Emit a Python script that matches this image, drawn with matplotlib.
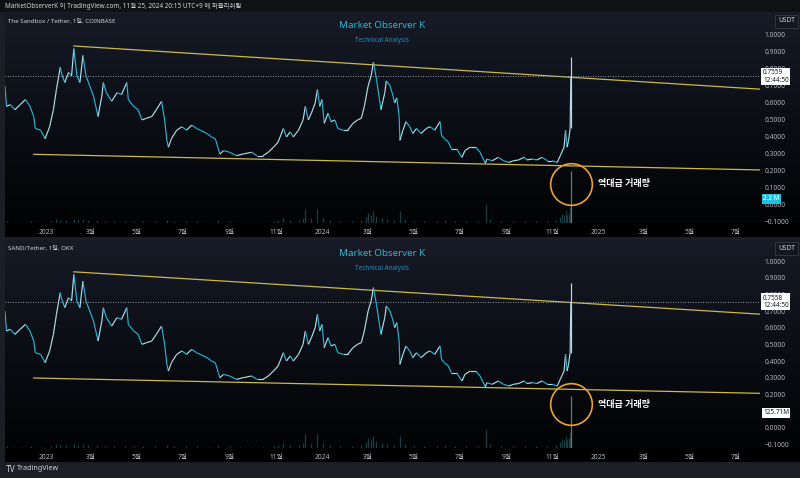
import numpy as np
import pandas as pd
import matplotlib
matplotlib.use("Agg")
import matplotlib.pyplot as plt
import matplotlib.dates as mdates
from matplotlib.collections import LineCollection
from matplotlib.colors import LinearSegmentedColormap
from matplotlib.patches import Rectangle

plt.rcParams['font.family'] = ['Noto Sans', 'Noto Sans CJK KR', 'DejaVu Sans']

# ---------------- data ----------------
price_dates = [
    "2022-11-08", "2022-11-10", "2022-11-15", "2022-11-21", "2022-11-28", "2022-12-05", "2022-12-11",
    "2022-12-16", "2022-12-18", "2022-12-25", "2022-12-31", "2023-01-06", "2023-01-11", "2023-01-15",
    "2023-01-20", "2023-01-22", "2023-01-26", "2023-01-31", "2023-02-04", "2023-02-07", "2023-02-11",
    "2023-02-15", "2023-02-19", "2023-02-23", "2023-02-28", "2023-03-05", "2023-03-11", "2023-03-16",
    "2023-03-18", "2023-03-22", "2023-03-29", "2023-04-05", "2023-04-11", "2023-04-18", "2023-04-20",
    "2023-04-27", "2023-05-03", "2023-05-08", "2023-05-14", "2023-05-21", "2023-05-27", "2023-06-03",
    "2023-06-07", "2023-06-10", "2023-06-12", "2023-06-16", "2023-06-23", "2023-06-30", "2023-07-06",
    "2023-07-13", "2023-07-19", "2023-07-24", "2023-08-02", "2023-08-08", "2023-08-13", "2023-08-17",
    "2023-08-19", "2023-08-24", "2023-09-01", "2023-09-10", "2023-09-19", "2023-09-30", "2023-10-07",
    "2023-10-15", "2023-10-22", "2023-10-29", "2023-11-04", "2023-11-11", "2023-11-15", "2023-11-20",
    "2023-11-24", "2023-12-01", "2023-12-07", "2023-12-10", "2023-12-14", "2023-12-18", "2023-12-23",
    "2023-12-26", "2023-12-29", "2024-01-01", "2024-01-04", "2024-01-09", "2024-01-13", "2024-01-18",
    "2024-01-22", "2024-01-29", "2024-02-04", "2024-02-11", "2024-02-17", "2024-02-22", "2024-02-26",
    "2024-03-02", "2024-03-06", "2024-03-09", "2024-03-13", "2024-03-17", "2024-03-19", "2024-03-24",
    "2024-03-26", "2024-03-31", "2024-04-04", "2024-04-06", "2024-04-09", "2024-04-12", "2024-04-13",
    "2024-04-17", "2024-04-21", "2024-04-26", "2024-04-30", "2024-05-05", "2024-05-11", "2024-05-18",
    "2024-05-23", "2024-05-29", "2024-06-05", "2024-06-07", "2024-06-11", "2024-06-16", "2024-06-20",
    "2024-06-27", "2024-07-04", "2024-07-08", "2024-07-15", "2024-07-22", "2024-07-28", "2024-08-04",
    "2024-08-06", "2024-08-13", "2024-08-21", "2024-08-28", "2024-09-04", "2024-09-10", "2024-09-17",
    "2024-09-24", "2024-09-28", "2024-10-05", "2024-10-11", "2024-10-18", "2024-10-25", "2024-10-31",
    "2024-11-07", "2024-11-11", "2024-11-16", "2024-11-18", "2024-11-20", "2024-11-22", "2024-11-24",
    "2024-11-25",
]
sand_close = [
    0.70, 0.58, 0.59, 0.56, 0.59, 0.62, 0.58,
    0.52, 0.45, 0.44, 0.39, 0.46, 0.56, 0.68,
    0.81, 0.77, 0.72, 0.78, 0.76, 0.92, 0.76,
    0.72, 0.88, 0.76, 0.70, 0.64, 0.52, 0.64,
    0.72, 0.66, 0.61, 0.66, 0.65, 0.72, 0.62,
    0.58, 0.56, 0.50, 0.51, 0.52, 0.56, 0.61,
    0.50, 0.38, 0.34, 0.39, 0.44, 0.46, 0.44,
    0.47, 0.45, 0.44, 0.42, 0.40, 0.39, 0.33,
    0.30, 0.32, 0.31, 0.29, 0.30, 0.31, 0.29,
    0.29, 0.31, 0.34, 0.37, 0.45, 0.40, 0.43,
    0.40, 0.44, 0.50, 0.58, 0.50, 0.54, 0.60,
    0.68, 0.58, 0.62, 0.48, 0.54, 0.49, 0.50,
    0.45, 0.44, 0.44, 0.48, 0.50, 0.51, 0.58,
    0.70, 0.76, 0.84, 0.74, 0.62, 0.56, 0.66,
    0.73, 0.70, 0.64, 0.60, 0.63, 0.52, 0.38,
    0.44, 0.49, 0.46, 0.42, 0.45, 0.42, 0.45,
    0.46, 0.44, 0.49, 0.41, 0.39, 0.37, 0.33,
    0.33, 0.28, 0.32, 0.34, 0.34, 0.31, 0.245,
    0.27, 0.26, 0.28, 0.26, 0.25, 0.26, 0.265,
    0.28, 0.265, 0.27, 0.265, 0.28, 0.26, 0.26,
    0.25, 0.29, 0.34, 0.44, 0.34, 0.38, 0.45,
    0.7559,
]
last_high = 0.87
coinbase_last = 0.7559
okx_last = 0.7558

vol_dates = [
    "2022-11-10", "2022-11-20", "2022-12-01", "2022-12-12", "2022-12-25", "2023-01-08", "2023-01-15",
    "2023-01-20", "2023-01-28", "2023-02-07", "2023-02-12", "2023-02-19", "2023-02-26", "2023-03-10",
    "2023-03-20", "2023-04-01", "2023-04-15", "2023-04-28", "2023-05-10", "2023-05-25", "2023-06-10",
    "2023-06-20", "2023-07-05", "2023-07-20", "2023-08-05", "2023-08-17", "2023-09-01", "2023-09-15",
    "2023-10-01", "2023-10-15", "2023-10-29", "2023-11-04", "2023-11-11", "2023-11-20", "2023-12-01",
    "2023-12-07", "2023-12-10", "2023-12-18", "2023-12-26", "2024-01-03", "2024-01-12", "2024-01-25",
    "2024-02-10", "2024-02-22", "2024-02-28", "2024-03-02", "2024-03-06", "2024-03-09", "2024-03-13",
    "2024-03-20", "2024-03-27", "2024-04-05", "2024-04-13", "2024-04-20", "2024-05-01", "2024-05-15",
    "2024-06-01", "2024-06-12", "2024-06-25", "2024-07-10", "2024-07-25", "2024-08-05", "2024-08-10",
    "2024-08-25", "2024-09-10", "2024-09-25", "2024-10-10", "2024-10-25", "2024-11-06", "2024-11-11",
    "2024-11-13", "2024-11-16", "2024-11-18", "2024-11-20", "2024-11-22", "2024-11-24", "2024-11-25",
]
coinbase_vol_m = [
    0.14, 0.09, 0.09, 0.14, 0.09, 0.18, 0.37,
    0.28, 0.28, 0.37, 0.28, 0.37, 0.28, 0.28,
    0.18, 0.18, 0.18, 0.14, 0.18, 0.14, 0.28,
    0.18, 0.14, 0.14, 0.09, 0.23, 0.14, 0.09,
    0.09, 0.09, 0.18, 0.28, 0.46, 0.28, 0.28,
    0.46, 1.28, 0.46, 1.28, 0.46, 0.28, 0.18,
    0.18, 0.28, 0.55, 0.92, 0.73, 1.10, 0.64,
    0.46, 0.37, 0.28, 1.10, 0.37, 0.18, 0.18,
    0.18, 0.28, 0.18, 0.18, 0.18, 1.74, 0.37,
    0.18, 0.14, 0.18, 0.14, 0.18, 0.28, 0.55,
    0.83, 0.73, 1.10, 0.73, 0.92, 1.47, 4.77,
]
okx_vol_m = [
    5.4, 3.6, 3.6, 5.4, 3.6, 7.2, 14.4,
    10.8, 10.8, 14.4, 10.8, 14.4, 10.8, 10.8,
    7.2, 7.2, 7.2, 5.4, 7.2, 5.4, 10.8,
    7.2, 5.4, 5.4, 3.6, 9.0, 5.4, 3.6,
    3.6, 3.6, 7.2, 10.8, 18.0, 10.8, 10.8,
    18.0, 50.0, 18.0, 50.0, 18.0, 10.8, 7.2,
    7.2, 10.8, 21.5, 35.9, 28.7, 43.0, 25.0,
    18.0, 14.4, 10.8, 43.0, 14.4, 7.2, 7.2,
    7.2, 10.8, 7.2, 7.2, 7.2, 68.0, 14.4,
    7.2, 5.4, 7.2, 5.4, 7.2, 10.8, 21.5,
    32.3, 28.7, 43.0, 28.7, 35.9, 57.4, 187.0,
]
coinbase_vol_label = "2.2 M"
coinbase_vol_value = 2.2
okx_vol_label = "125.71M"
okx_vol_value = 125.71

upper_line_dates = ["2023-02-07", "2025-08-02"]
upper_line_prices = [0.935, 0.681]
lower_line_dates = ["2022-12-16", "2025-08-02"]
lower_line_prices = [0.298, 0.206]

price_ticks = [-0.1, 0.0, 0.1, 0.2, 0.3, 0.4, 0.5, 0.6, 0.7, 0.8, 0.9, 1.0]
xtick_dates = ["2023-01-01", "2023-03-01", "2023-05-01", "2023-07-01", "2023-09-01", "2023-11-01",
               "2024-01-01", "2024-03-01", "2024-05-01", "2024-07-01", "2024-09-01", "2024-11-01",
               "2025-01-01", "2025-03-01", "2025-05-01", "2025-07-01"]
xtick_labels = ["2023", "3월", "5월", "7월", "9월", "11월", "2024", "3월", "5월", "7월", "9월", "11월",
                "2025", "3월", "5월", "7월"]
x_range = ["2022-11-08", "2025-08-02"]

# ---------------- figure ----------------
W, H = 800, 478
fig = plt.figure(figsize=(8, 4.78), dpi=100)
fig.patch.set_facecolor('#1c1e25')


def rect(x0, y0, x1, y1):
    return [x0 / W, 1 - y1 / H, (x1 - x0) / W, (y1 - y0) / H]


def frect(x0, y0, x1, y1, color):
    fig.add_artist(Rectangle((x0 / W, 1 - y1 / H), (x1 - x0) / W, (y1 - y0) / H,
                             transform=fig.transFigure, facecolor=color, edgecolor='none', zorder=0))


# header
frect(0, 0, 800, 12, '#101114')
fig.text(5 / W, 1 - 6 / H, "MarketObserverK 이 TradingView.com, 11월 25, 2024 20:15 UTC+9 에 퍼블리쉬됨",
         fontsize=4.6, color='#d1d4dc', va='center', ha='left')

grad_cmap = LinearSegmentedColormap.from_list('bg', ['#020304', '#0b0e15', '#171b27'])
up_color = '#b4dbe6'
down_color = '#27b2d2'

dates_num = mdates.date2num(pd.to_datetime(price_dates))
vdates_num = mdates.date2num(pd.to_datetime(vol_dates))


def panel(top, bottom, strip_bottom, ylim, close, last_price, vols, vol_max, vol_value, vol_label,
          vol_fc, vol_tc, info, circle_price):
    # background gradient
    bg = fig.add_axes(rect(5, top, 800, bottom))
    grad = np.linspace(0, 1, 256).reshape(-1, 1)
    bg.imshow(grad, aspect='auto', cmap=grad_cmap, origin='lower', extent=[0, 1, 0, 1])
    bg.axis('off')
    frect(5, bottom, 800, strip_bottom, '#000000')

    ax = fig.add_axes(rect(5, top, 760, bottom))
    ax.patch.set_alpha(0)
    for s in ax.spines.values():
        s.set_visible(False)
    ax.set_xlim(pd.to_datetime(x_range[0]), pd.to_datetime(x_range[1]))
    ax.set_ylim(*ylim)

    # volumes
    vcols = ['#173e42'] * (len(vols) - 1) + ['#6f737b']
    ax.vlines(vdates_num, 0, np.array(vols) / vol_max, transform=ax.get_xaxis_transform(),
              colors=vcols, lw=0.9, zorder=1)

    # trend lines
    ax.plot(pd.to_datetime(upper_line_dates), upper_line_prices, color='#cbb94a', lw=0.9, zorder=2)
    ax.plot(pd.to_datetime(lower_line_dates), lower_line_prices, color='#cbb94a', lw=0.9, zorder=2)

    # price line (up segments pale, down segments cyan)
    pts = np.column_stack([dates_num, close])
    segs = np.stack([pts[:-1], pts[1:]], axis=1)
    cols = [up_color if b >= a else down_color for a, b in zip(close[:-1], close[1:])]
    ax.add_collection(LineCollection(segs, colors=cols, linewidths=0.85, zorder=3))
    ax.vlines(dates_num[-1], close[-2], last_high, colors=up_color, lw=0.85, zorder=3)

    # current price dotted line and label
    ax.axhline(last_price, color='#a6a9b1', lw=0.6, ls=(0, (1.2, 1.8)), zorder=2)
    ax.text(1.004, last_price, f"{last_price:.4f}\n12:44:50", transform=ax.get_yaxis_transform(),
            fontsize=4.6, color='#131722', va='center', ha='left', linespacing=1.05,
            bbox=dict(boxstyle='square,pad=0.25', fc='white', ec='none'), zorder=6)

    # volume label
    ax.text(1.004, vol_value / vol_max, vol_label, transform=ax.transAxes,
            fontsize=4.6, color=vol_tc, va='center', ha='left',
            bbox=dict(boxstyle='square,pad=0.2', fc=vol_fc, ec='none'), zorder=6)

    # circle annotation
    ax.plot(dates_num[-1], circle_price, 'o', ms=30, mfc='none', mec='#e9a23b', mew=1.2, zorder=5)
    ax.annotate("역대급 거래량", xy=(dates_num[-1], circle_price), xytext=(19.5, 0),
                textcoords='offset points', fontsize=6.5, fontweight='bold', color='white',
                va='center', ha='left', zorder=6)

    # axes ticks
    ax.yaxis.tick_right()
    ax.set_yticks(price_ticks)
    ax.set_yticklabels([f"{v:.4f}".replace('-', '\u2212') for v in price_ticks])
    ax.tick_params(axis='y', length=0, pad=3, labelsize=4.8, labelcolor='#b2b5be')
    ax.set_xticks(pd.to_datetime(xtick_dates))
    ax.set_xticklabels(xtick_labels)
    ax.tick_params(axis='x', length=0, pad=4, labelsize=4.8, labelcolor='#b2b5be')
    for lab in ax.get_xticklabels():
        if lab.get_text().isdigit():
            lab.set_fontweight('bold')

    # USDT box
    ax.text(1.035, 1 - 8 / (bottom - top), "USDT", transform=ax.transAxes, fontsize=4.8,
            color='#d1d4dc', va='center', ha='center',
            bbox=dict(boxstyle='square,pad=0.45', fc='#131722', ec='#363a45', lw=0.6))

    # titles
    fig.text(382 / W, 1 - (top + 13) / H, "Market Observer K", ha='center', va='center',
             fontsize=7, color='#2bb6d6')
    fig.text(382 / W, 1 - (top + 28) / H, "Technical Analysis", ha='center', va='center',
             fontsize=4.6, color='#2a8ab8')
    fig.text(8 / W, 1 - (top + 8) / H, info, ha='left', va='center', fontsize=4.4, color='#d1d4dc')
    return ax


panel(13, 223, 237, (-0.106, 1.129), sand_close, coinbase_last, coinbase_vol_m, 19.1,
      coinbase_vol_value, coinbase_vol_label, '#22c0e0', 'white',
      "The Sandbox / Tether, 1일, COINBASE", 0.124)
okx_close = sand_close[:-1] + [okx_last]
panel(240, 448, 462, (-0.122, 1.126), okx_close, okx_last, okx_vol_m, 747.0,
      okx_vol_value, okx_vol_label, 'white', '#131722',
      "SAND/Tether, 1일, OKX", 0.142)

# footer
fig.text(6 / W, 1 - 469 / H, "TV", fontsize=6, fontweight='bold', color='#d1d4dc', va='center', ha='left')
fig.text(17 / W, 1 - 469 / H, "TradingView", fontsize=5.2, color='#d1d4dc', va='center', ha='left')

fig.savefig("out.png", dpi=100, facecolor=fig.get_facecolor())
